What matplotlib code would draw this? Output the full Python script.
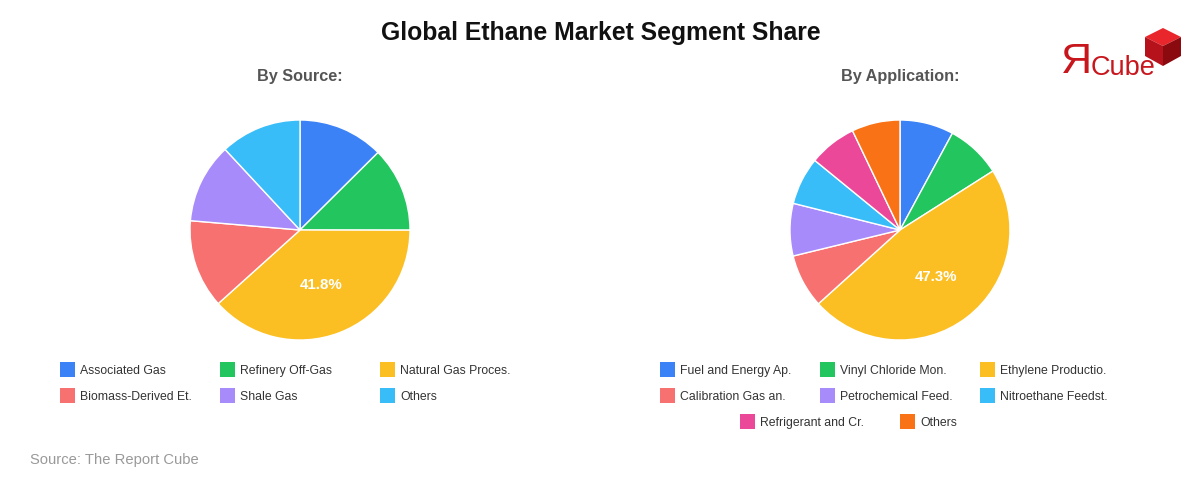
import numpy as np
import matplotlib
matplotlib.use("Agg")
import matplotlib.pyplot as plt
from matplotlib.patches import Rectangle, Polygon

plt.rcParams['font.family'] = ['Liberation Sans', 'DejaVu Sans']

title = "Global Ethane Market Segment Share"
source_title = "By Source:"
source_labels = ["Associated Gas", "Refinery Off-Gas", "Natural Gas Proces.",
                 "Biomass-Derived Et.", "Shale Gas", "Others"]
source_values = [13.7, 13.6, 41.8, 14.2, 12.8, 13.0]
source_colors = ["#3B82F6", "#22C55E", "#FBBF24", "#F87171", "#A78BFA", "#38BDF8"]

app_title = "By Application:"
app_labels = ["Fuel and Energy Ap.", "Vinyl Chloride Mon.", "Ethylene Productio.",
              "Calibration Gas an.", "Petrochemical Feed.", "Nitroethane Feedst.",
              "Refrigerant and Cr.", "Others"]
app_values = [7.9, 8.1, 47.3, 7.9, 7.7, 7.0, 7.0, 7.1]
app_colors = ["#3B82F6", "#22C55E", "#FBBF24", "#F87171", "#A78BFA", "#38BDF8",
              "#EC4899", "#F97316"]

source_note = "Source: The Report Cube"

W, H = 1200, 480
fig = plt.figure(figsize=(12, 4.8), dpi=100)
fig.patch.set_facecolor("white")

def fx(px):
    return px / W

def fy(py):
    return 1 - py / H

fig.text(fx(601), fy(33), title, ha="center", va="center", fontsize=17.8,
         fontweight="bold", color="#111111")


def draw_pie(cx, cy, r, values, colors, subtitle):
    ax = fig.add_axes([fx(cx - r), fy(cy + r), 2 * r / W, 2 * r / H])
    wedges, _ = ax.pie(values, colors=colors, startangle=90, counterclock=False,
                       wedgeprops=dict(edgecolor="white", linewidth=1))
    ax.set_xlim(-1, 1)
    ax.set_ylim(-1, 1)
    ax.set_aspect("equal")
    ax.axis("off")
    i = int(np.argmax(values))
    w = wedges[i]
    mid = np.deg2rad((w.theta1 + w.theta2) / 2)
    d = 0.54
    ax.text(d * np.cos(mid), d * np.sin(mid), f"{values[i]:.1f}%", ha="center",
            va="center", color="white", fontsize=10.8, fontweight="bold")
    fig.text(fx(cx), fy(77), subtitle, ha="center", va="center", fontsize=11.7,
             fontweight="bold", color="#555555")


def legend_item(x, y, label, color):
    fig.patches.append(Rectangle((fx(x), fy(y + 7.5)), 15 / W, 15 / H,
                                 transform=fig.transFigure, facecolor=color,
                                 edgecolor="none"))
    fig.text(fx(x + 20), fy(y + 0.5), label, ha="left", va="center_baseline",
             fontsize=8.8, color="#333333")


draw_pie(300, 230, 110, source_values, source_colors, source_title)
draw_pie(900, 230, 110, app_values, app_colors, app_title)

left_cols = [60, 220, 380]
rows = [369, 395, 421]
for k, (lab, col) in enumerate(zip(source_labels, source_colors)):
    legend_item(left_cols[k % 3], rows[k // 3], lab, col)

right_cols = [660, 820, 980]
for k, (lab, col) in enumerate(zip(app_labels, app_colors)):
    if k < 6:
        legend_item(right_cols[k % 3], rows[k // 3], lab, col)
    else:
        legend_item([740, 900][k - 6], rows[2], lab, col)

fig.text(fx(30), fy(460), source_note, ha="left", va="center", fontsize=10.6,
         color="#999999")

# logo
fig.text(fx(1061), fy(62), "Я", ha="left", va="center", fontsize=31,
         color="#C8161D", fontfamily="Liberation Sans")
fig.text(fx(1091), fy(68), "Cube", ha="left", va="center", fontsize=19.5,
         color="#C8161D")
top = [(1145, 37), (1163, 28), (1181, 37), (1163, 46)]
left = [(1145, 37), (1163, 46), (1163, 66), (1145, 56)]
right = [(1163, 46), (1181, 37), (1181, 56), (1163, 66)]
for pts, c in [(top, "#E8262B"), (left, "#B5121B"), (right, "#8A0A10")]:
    fig.patches.append(Polygon([(fx(a), fy(b)) for a, b in pts], closed=True,
                               transform=fig.transFigure, facecolor=c,
                               edgecolor="none"))

fig.savefig("out.png", dpi=100, facecolor="white")
